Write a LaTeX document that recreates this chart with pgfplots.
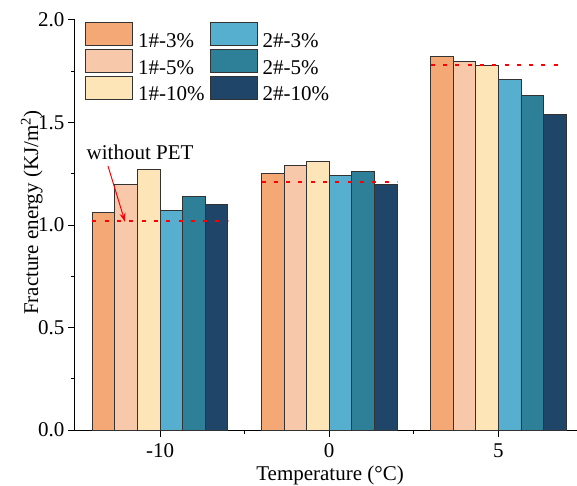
\documentclass[border=0pt]{standalone}
\usepackage{fontspec}
\setmainfont{Liberation Serif}
\usepackage{pgfplots}
\pgfplotsset{compat=1.18}
\usetikzlibrary{arrows.meta}

\definecolor{cA}{HTML}{F3A875}
\definecolor{cB}{HTML}{F7C8AA}
\definecolor{cC}{HTML}{FDE5B7}
\definecolor{cD}{HTML}{56AFCE}
\definecolor{cE}{HTML}{2E7F98}
\definecolor{cF}{HTML}{1F4568}

\newcommand{\bigfont}{\fontsize{21}{25}\selectfont}

\begin{document}
\begin{tikzpicture}
\begin{axis}[
    scale only axis,
    width=502pt, height=410pt,
    at={(0,0)}, anchor=south west,
    xmin=-0.503, xmax=2.465,
    ymin=0, ymax=2.0,
    axis x line=bottom, axis y line=left,
    axis line style={-, line width=1pt, black},
    xtick={0,1,2}, xticklabels={-10,0,5},
    minor xtick={0.5,1.5},
    ytick={0,0.5,1,1.5,2},
    minor ytick={0.25,0.75,1.25,1.75},
    yticklabel style={/pgf/number format/.cd, fixed, fixed zerofill, precision=1},
    xticklabel style={yshift=-3pt},
    /pgf/number format/assume math mode=true,
    tick align=outside,
    major tick length=7pt, minor tick length=4pt,
    every tick/.style={black, line width=1pt},
    tick label style={font=\bigfont},
    xlabel={Temperature (°C)},
    ylabel={Fracture energy (KJ/m\textsuperscript{2})},
    label style={font=\bigfont},
    xlabel style={at={(axis description cs:0.508,-0.111)}, anchor=center},
    ylabel style={at={(axis description cs:-0.086,0.53)}, anchor=center, rotate=0},
    legend columns=2,
    legend style={at={(axis description cs:0.014,1.0)}, anchor=north west,
        draw=none, fill=none, font=\bigfont,
        column sep=2.5pt, row sep=0pt,
        nodes={inner xsep=2.5pt, inner ysep=0pt, anchor=west}},
    legend cell align=left,
    legend image code/.code={\draw[#1] (0pt,-4.5pt) rectangle (47pt,18.5pt);},
    every axis plot/.append style={draw=black!80, line width=0.9pt},
]
\addplot[ybar, bar width=22.6pt, bar shift=-56.5pt, fill=cA, forget plot] coordinates {(0,1.06) (1,1.25) (2,1.82)};
\addplot[ybar, bar width=22.6pt, bar shift=-33.9pt, fill=cB, forget plot] coordinates {(0,1.20) (1,1.29) (2,1.80)};
\addplot[ybar, bar width=22.6pt, bar shift=-11.3pt, fill=cC, forget plot] coordinates {(0,1.27) (1,1.31) (2,1.78)};
\addplot[ybar, bar width=22.6pt, bar shift=11.3pt, fill=cD, forget plot] coordinates {(0,1.07) (1,1.24) (2,1.71)};
\addplot[ybar, bar width=22.6pt, bar shift=33.9pt, fill=cE, forget plot] coordinates {(0,1.14) (1,1.26) (2,1.63)};
\addplot[ybar, bar width=22.6pt, bar shift=56.5pt, fill=cF, forget plot] coordinates {(0,1.10) (1,1.20) (2,1.54)};

% reference level without PET
\addplot[sharp plot, draw=red, line width=1.8pt, dash pattern=on 4pt off 8.3pt, forget plot] coordinates {(-0.4,1.02) (0.4,1.02)};
\addplot[sharp plot, draw=red, line width=1.8pt, dash pattern=on 4pt off 8.3pt, forget plot] coordinates {(0.6,1.21) (1.4,1.21)};
\addplot[sharp plot, draw=red, line width=1.8pt, dash pattern=on 4pt off 8.3pt, forget plot] coordinates {(1.6,1.78) (2.37,1.78)};

\addlegendimage{fill=cA, draw=black!80, line width=0.9pt}\addlegendentry{1\#-3\%}
\addlegendimage{fill=cD, draw=black!80, line width=0.9pt}\addlegendentry{2\#-3\%}
\addlegendimage{fill=cB, draw=black!80, line width=0.9pt}\addlegendentry{1\#-5\%}
\addlegendimage{fill=cE, draw=black!80, line width=0.9pt}\addlegendentry{2\#-5\%}
\addlegendimage{fill=cC, draw=black!80, line width=0.9pt}\addlegendentry{1\#-10\%}
\addlegendimage{fill=cF, draw=black!80, line width=0.9pt}\addlegendentry{2\#-10\%}

\node[font=\bigfont] at (axis cs:-0.118,1.356) {without PET};
\draw[red, line width=1pt, -{Stealth[length=9pt, width=6pt]}] (axis cs:-0.308,1.288) -- (axis cs:-0.207,1.015);
\end{axis}
\pgfresetboundingbox
\useasboundingbox (-75pt,-55pt) rectangle (502pt,430pt);
\end{tikzpicture}
\end{document}
